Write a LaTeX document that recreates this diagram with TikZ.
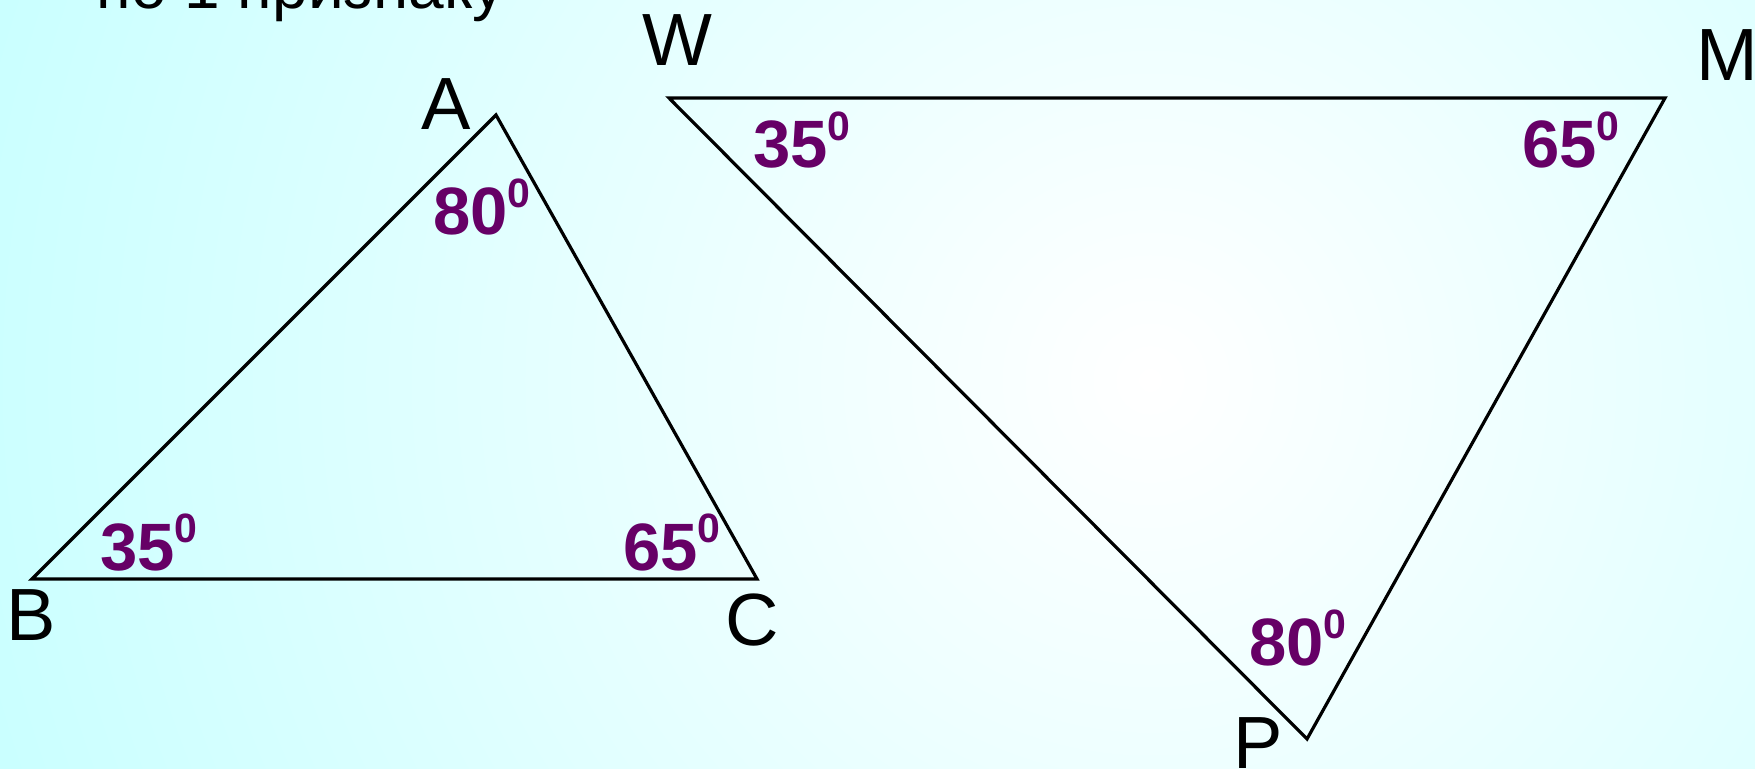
\documentclass[tikz,border=0pt]{standalone}
\usepackage{fontspec}
\setmainfont{Liberation Sans}
\usepackage{xcolor}
\definecolor{angpurple}{HTML}{660066}
\definecolor{bgcyan}{HTML}{C8FFFF}
\newcommand{\angval}[1]{{\fontsize{33.5}{36}\selectfont\bfseries #1\raisebox{13.5pt}{\fontsize{20.5}{22}\selectfont 0}}}

\begin{document}
\begin{tikzpicture}[
  x=0.5pt, y=-0.5pt,
  vlabel/.style={inner sep=0pt, font=\fontsize{37}{40}\selectfont},
  alabel/.style={inner sep=0pt, anchor=base west, text=angpurple},
  side/.style={draw=black, line width=1.6pt}
]
  \useasboundingbox (0,0) rectangle (1755,769);
  \begin{scope}
    \clip (0,0) rectangle (1755,769);
    \shade[inner color=white, outer color=bgcyan] (1150,380) circle (1250);
  \end{scope}
  \node[inner sep=0pt, anchor=base west, font=\fontsize{32}{36}\selectfont] (title) at (96,9) {по 1 признаку};
  % first triangle
  \coordinate (A) at (496,115);
  \coordinate (B) at (32,579);
  \coordinate (C) at (757,579);
  \draw[side] (A) -- (B) -- (C) -- cycle;
  \node[vlabel] (labA) at (446,104.5) {A};
  \node[vlabel] (labB) at (31,615.5) {B};
  \node[vlabel] (labC) at (752,620.5) {C};
  \node[alabel] (angA) at (433,235) {\angval{80}};
  \node[alabel] (angB) at (100,570) {\angval{35}};
  \node[alabel] (angC) at (623,570) {\angval{65}};
  % second triangle
  \coordinate (W) at (669,98);
  \coordinate (M) at (1665,98);
  \coordinate (P) at (1307,739);
  \draw[side] (W) -- (M) -- (P) -- cycle;
  \node[vlabel] (labW) at (677.5,40) {W};
  \node[vlabel] (labM) at (1727.5,55.5) {M};
  \node[vlabel] (labP) at (1258.5,743.5) {P};
  \node[alabel] (angW) at (753,168) {\angval{35}};
  \node[alabel] (angM) at (1522,168) {\angval{65}};
  \node[alabel] (angP) at (1249,665) {\angval{80}};
\end{tikzpicture}
\end{document}
